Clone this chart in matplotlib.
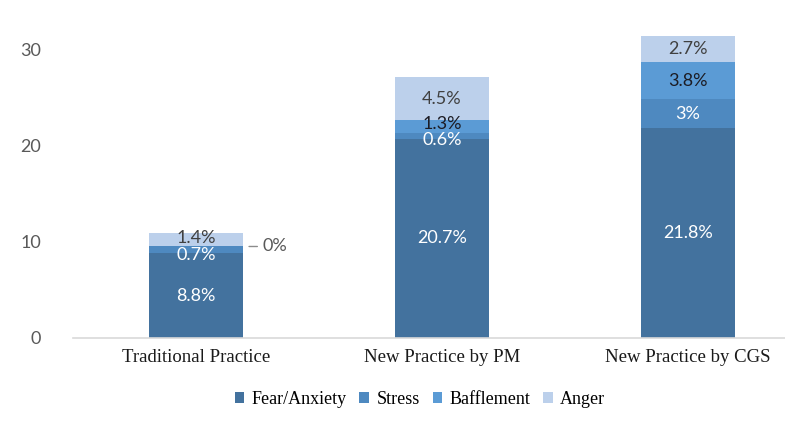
import matplotlib
matplotlib.use("Agg")
import matplotlib.pyplot as plt
from matplotlib.patches import Patch

categories = ["Traditional Practice", "New Practice by PM", "New Practice by CGS"]
series_names = ["Fear/Anxiety", "Stress", "Bafflement", "Anger"]
fear = [8.8, 20.7, 21.8]
stress = [0.7, 0.6, 3.0]
bafflement = [0.0, 1.3, 3.8]
anger = [1.4, 4.5, 2.7]
value_labels = [
    ["8.8%", "20.7%", "21.8%"],
    ["0.7%", "0.6%", "3%"],
    ["0%", "1.3%", "3.8%"],
    ["1.4%", "4.5%", "2.7%"],
]
yticks = [0, 10, 20, 30]

colors = ["#43729E", "#4E89C0", "#5B9BD5", "#BCD0EB"]
label_colors = ["white", "white", "#1C1C24", "#404040"]
# small vertical nudges (points) to avoid overlap, as in the original
nudges = {(1, 0): -3.5, (3, 0): 1.5, (1, 1): -3.0, (2, 1): 2.0}

SERIF = "Liberation Serif"
SANS = "Lato"

fig = plt.figure(figsize=(7.85, 4.34), dpi=100)
ax = fig.add_axes([73 / 785, 96 / 434, 738 / 785, 338 / 434])

data = [fear, stress, bafflement, anger]
x = list(range(len(categories)))
width = 0.386
bottoms = [0.0] * len(categories)
for si, vals in enumerate(data):
    ax.bar(x, vals, width, bottom=bottoms, color=colors[si], linewidth=0, zorder=2)
    for ci, v in enumerate(vals):
        yc = bottoms[ci] + v / 2
        lab = value_labels[si][ci]
        if v == 0:
            ax.annotate(lab, xy=(x[ci] + width / 2, yc), xycoords="data",
                        xytext=(14, 0), textcoords="offset points",
                        ha="left", va="center", fontsize=13, family=SANS,
                        color="#595959",
                        arrowprops=dict(arrowstyle="-", color="#8C8C8C", lw=1,
                                        shrinkA=2, shrinkB=4))
        else:
            dy = nudges.get((si, ci), 0)
            ax.annotate(lab, xy=(x[ci], yc), xycoords="data",
                        xytext=(0, dy), textcoords="offset points",
                        ha="center", va="center", fontsize=13, family=SANS,
                        color=label_colors[si])
    bottoms = [b + v for b, v in zip(bottoms, vals)]

ax.set_xlim(-0.5, len(categories) - 0.5)
ax.set_ylim(0, 338 / 9.633)
ax.set_yticks(yticks)
ax.set_yticklabels([str(t) for t in yticks], family=SANS, fontsize=13, color="#595959")
ax.set_xticks(x)
ax.set_xticklabels(categories, family=SERIF, fontsize=13.5, color="#1A1A1A")
ax.tick_params(axis="y", length=0, pad=23)
ax.tick_params(axis="x", length=0, pad=8)
for s in ["top", "right", "left"]:
    ax.spines[s].set_visible(False)
ax.spines["bottom"].set_color("#D9D9D9")
ax.spines["bottom"].set_linewidth(1.2)

handles = [Patch(facecolor=c, edgecolor="none") for c in colors]
fig.legend(handles, series_names, loc="center", bbox_to_anchor=(420 / 785, 1 - 399 / 434),
           ncol=4, frameon=False, prop={"family": SERIF, "size": 13},
           handlelength=0.55, handleheight=0.55, handletextpad=0.4, columnspacing=0.7)

fig.savefig("out.png", dpi=100)
